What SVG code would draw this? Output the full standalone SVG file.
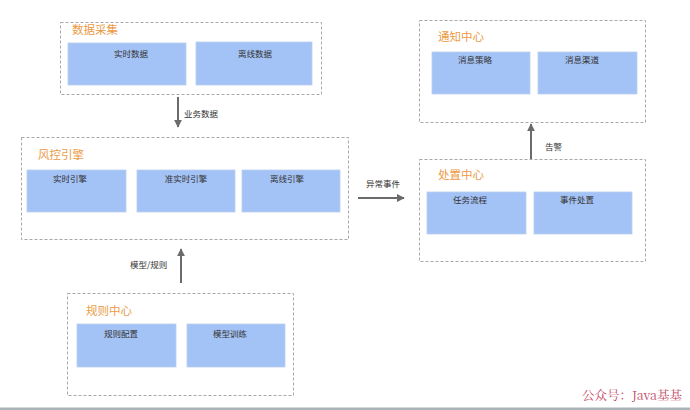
<svg xmlns="http://www.w3.org/2000/svg" width="690" height="410" viewBox="0 0 690 410">
<style>
.grp{fill:#fff;stroke:#a8a8a8;stroke-width:1;stroke-dasharray:3 2}
.box{fill:#a3c2f5;stroke:#b8cfee;stroke-width:0.8}
.ttl{font-family:"Noto Sans CJK SC","Noto Sans",sans-serif;font-size:11.5px;fill:#eb9a45}
.lbl{font-family:"Noto Sans CJK SC","Noto Sans",sans-serif;font-size:8.5px;fill:#333;text-anchor:middle}
.alb{font-family:"Noto Sans CJK SC","Noto Sans",sans-serif;font-size:8.5px;fill:#333}
.con{stroke:#6b6b6b;stroke-width:2;fill:none}
</style>
<defs>
<marker id="ah" viewBox="0 0 10 10" refX="9" refY="5" markerWidth="4" markerHeight="4" orient="auto" markerUnits="strokeWidth">
<path d="M0,0 L10,5 L0,10 z" fill="#6b6b6b"/>
</marker>
</defs>
<rect x="0" y="0" width="690" height="410" fill="#fff"/>
<g id="node-collect">
<rect class="grp" x="60.5" y="22.5" width="261" height="72"/>
<text class="ttl" x="72" y="34">数据采集</text>
<rect class="box" x="68" y="43" width="118" height="42"/>
<text class="lbl" x="131" y="57">实时数据</text>
<rect class="box" x="196" y="42" width="116" height="43"/>
<text class="lbl" x="255" y="57">离线数据</text>
</g>
<g id="node-engine">
<rect class="grp" x="21.5" y="137.5" width="327" height="102"/>
<text class="ttl" x="38" y="159">风控引擎</text>
<rect class="box" x="27" y="170" width="99" height="42"/>
<text class="lbl" x="70" y="182">实时引擎</text>
<rect class="box" x="137" y="170" width="98" height="42"/>
<text class="lbl" x="186" y="182">准实时引擎</text>
<rect class="box" x="242" y="170" width="98" height="42"/>
<text class="lbl" x="287" y="182">离线引擎</text>
</g>
<g id="node-rules">
<rect class="grp" x="67.5" y="293.5" width="226" height="102"/>
<text class="ttl" x="86" y="315">规则中心</text>
<rect class="box" x="77" y="324" width="99" height="43"/>
<text class="lbl" x="121" y="337">规则配置</text>
<rect class="box" x="187" y="324" width="98" height="43"/>
<text class="lbl" x="230" y="337">模型训练</text>
</g>
<g id="node-notify">
<rect class="grp" x="419.5" y="20.5" width="226" height="102"/>
<text class="ttl" x="438" y="41">通知中心</text>
<rect class="box" x="432" y="52" width="98" height="42"/>
<text class="lbl" x="475" y="63">消息策略</text>
<rect class="box" x="538" y="52" width="99" height="42"/>
<text class="lbl" x="582" y="63">消息渠道</text>
</g>
<g id="node-handle">
<rect class="grp" x="419.5" y="159.5" width="226" height="102"/>
<text class="ttl" x="438" y="179">处置中心</text>
<rect class="box" x="427" y="192" width="99" height="42"/>
<text class="lbl" x="470" y="203">任务流程</text>
<rect class="box" x="534" y="192" width="98" height="42"/>
<text class="lbl" x="577" y="203">事件处置</text>
</g>
<g id="connectors">
<line class="con" x1="178" y1="97" x2="178" y2="127" marker-end="url(#ah)"/>
<text class="alb" x="184" y="117">业务数据</text>
<line class="con" x1="181" y1="283" x2="181" y2="249" marker-end="url(#ah)"/>
<text class="alb" x="130" y="268">模型/规则</text>
<line class="con" x1="358" y1="198" x2="404" y2="198" marker-end="url(#ah)"/>
<text class="alb" x="366" y="187">异常事件</text>
<line class="con" x1="531" y1="159" x2="531" y2="124" marker-end="url(#ah)"/>
<text class="alb" x="545" y="150">告警</text>
</g>
<text x="582" y="400" font-family="'Noto Serif CJK SC','Liberation Serif','Noto Sans CJK SC',serif" font-size="12.5" fill="#bf4a66">公众号：Java基基</text>
<rect x="0" y="407.5" width="690" height="2.5" fill="#a9b3b8"/>
</svg>
